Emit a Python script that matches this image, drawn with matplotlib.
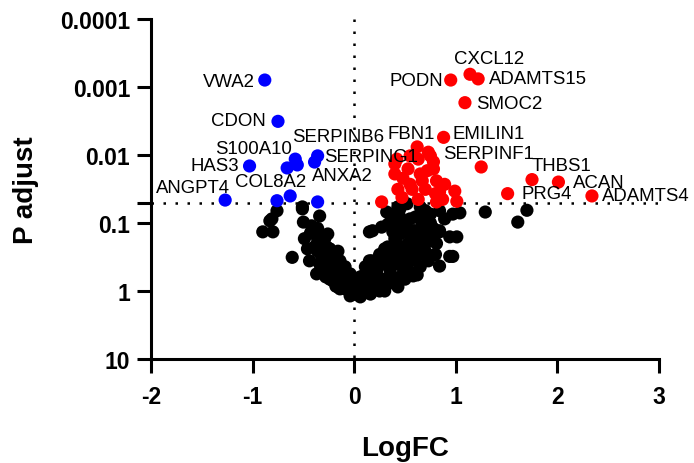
import matplotlib
matplotlib.use("Agg")
import matplotlib.pyplot as plt
import matplotlib.ticker as mticker

plt.rcParams['font.family'] = ['Liberation Sans', 'DejaVu Sans']

# ---- data ----
# labelled genes
gene_names = ["VWA2", "CDON", "S100A10", "HAS3", "SERPINB6", "SERPING1", "ANXA2",
              "COL8A2", "ANGPT4",
              "CXCL12", "PODN", "ADAMTS15", "SMOC2", "EMILIN1", "FBN1", "SERPINF1",
              "THBS1", "ACAN", "PRG4", "ADAMTS4"]
gene_fc = [-0.88, -0.75, -0.58, -1.03, -0.36, -0.39, -0.36,
           -0.76, -1.27,
           1.14, 0.95, 1.22, 1.09, 0.88, 0.62, 1.25,
           1.75, 2.01, 1.51, 2.34]
gene_p = [0.00079, 0.0032, 0.0115, 0.0145, 0.0103, 0.0127, 0.049,
          0.047, 0.046,
          0.00065, 0.00079, 0.00076, 0.0017, 0.0055, 0.0076, 0.015,
          0.023, 0.025, 0.037, 0.040]

# other significant genes
sig_fc = [-0.56, -0.66, -0.63,
          0.73, 0.63, 0.78, 0.53, 0.72, 0.48, 0.67, 0.81, 0.57, 0.70, 0.84, 0.99,
          1.01, 0.87, 0.47, 0.63, 0.40, 0.65, 0.89, 0.80, 0.55, 0.43, 0.27,
          0.40, 0.42, 0.55, 0.75, 0.78, 0.81]
sig_p = [0.014, 0.0155, 0.040,
         0.0091, 0.0115, 0.0126, 0.016, 0.017, 0.022, 0.024, 0.024, 0.032, 0.032, 0.035, 0.034,
         0.048, 0.045, 0.042, 0.045, 0.0135, 0.019, 0.027, 0.037, 0.027, 0.032, 0.049,
         0.019, 0.0115, 0.0103, 0.0103, 0.016, 0.049]

# non-significant genes
ns_fc = [-0.76, -0.81, -0.90, -0.80, -0.51, -0.50, -0.34, -0.42, -0.61, -0.32,
         -0.39, -0.27, -0.16, -0.44, -0.34, -0.27, -0.37, -0.14, -0.04, -0.14,
         -0.21, -0.04, -0.29, -0.24, -0.19, -0.09, 0.01, -0.09, -0.24, -0.32, -0.36,
         0.52, 0.65, 0.35, 0.45, 0.97, 0.18, 0.27, 0.45, 0.58, 0.75,
         0.84, 0.94, 0.75, 0.52, 0.65, 0.72, 0.94, 0.84, 0.38, 0.32,
         0.22, 0.13, 0.58, 0.06, 0.03, 0.19, 0.35, 0.48, 0.22, 0.01,
         0.09, 1.04, 1.29, 1.70, 1.61, 1.01, 0.97, 0.62, 0.40, 0.50,
         0.60, 0.70, 0.30, 0.25, 0.15, 0.40, 0.55, 0.11, 0.28, 0.81, 0.63, 0.43,
         # left arm, dense part
         -0.39, -0.32, -0.24, -0.19, -0.14, -0.09, -0.32, -0.26, -0.19, -0.14,
         -0.06, -0.29, -0.36, -0.49, -0.46, -0.02, -0.16, -0.14, -0.04, 0.06,
         0.16, 0.25, 0.33, 0.40, -0.51, -0.83, -0.26, -0.21, -0.24, -0.11,
         -0.07, 0.01, 0.13, 0.22, 0.09, 0.22, 0.32, 0.38, 0.45, 0.58,
         0.32, 0.45, 0.84, 0.70, 0.52, 0.38, 0.15,
         -0.30, -0.22, -0.12, -0.28, -0.18, -0.43, -0.36,
         # right arm, dense part
         0.06, 0.14, 0.20, 0.28, 0.35, 0.43, 0.50, 0.57, 0.63, 0.70,
         0.76, 0.45, 0.53, 0.60, 0.67, 0.75, 0.84, 0.89, 0.40, 0.33,
         0.25, 0.17, 0.11, 0.40, 0.55, 0.65, 0.80, 0.73, 0.65, 0.50,
         0.43, 0.30, 0.08,
         0.18, 0.26, 0.36, 0.48, 0.60, 0.70, 0.55, 0.68, 0.78, 0.47, 0.33]
ns_p = [0.066, 0.087, 0.135, 0.135, 0.058, 0.097, 0.079, 0.11, 0.32, 0.155,
        0.225, 0.225, 0.26, 0.36, 0.40, 0.56, 0.56, 0.44, 0.56, 0.79,
        0.71, 1.0, 0.17, 0.32, 0.40, 0.67, 1.10, 0.93, 0.47, 0.32, 0.12,
        0.052, 0.058, 0.074, 0.082, 0.074, 0.13, 0.115, 0.145, 0.13, 0.10,
        0.13, 0.16, 0.18, 0.225, 0.29, 0.29, 0.31, 0.43, 0.29, 0.36,
        0.44, 0.51, 0.60, 0.62, 0.79, 0.79, 0.62, 0.56, 0.56, 1.0,
        1.0, 0.071, 0.069, 0.065, 0.097, 0.16, 0.31, 0.58, 0.20, 0.10,
        0.082, 0.066, 0.24, 0.32, 0.36, 0.40, 0.36, 0.71, 0.67, 0.20, 0.17, 0.058,
        0.145, 0.20, 0.24, 0.29, 0.36, 0.44, 0.36, 0.44, 0.51, 0.67,
        0.74, 0.29, 0.26, 0.17, 0.24, 0.79, 0.87, 0.93, 1.18, 1.22,
        1.11, 1.0, 0.79, 0.67, 0.062, 0.093, 0.145, 0.34, 0.67, 0.60,
        0.93, 1.11, 0.93, 0.85, 0.60, 0.52, 0.37, 0.31, 0.22, 0.17,
        0.069, 0.062, 0.135, 0.135, 0.135, 0.135, 0.135,
        0.30, 0.52, 0.80, 0.62, 0.85, 0.14, 0.19,
        0.79, 0.67, 0.48, 0.40, 0.48, 0.40, 0.34, 0.29, 0.24, 0.20,
        0.17, 0.29, 0.20, 0.13, 0.10, 0.074, 0.066, 0.087, 0.17, 0.225,
        0.29, 0.36, 0.44, 0.10, 0.087, 0.074, 0.29, 0.36, 0.44, 0.67,
        0.87, 1.0, 0.93,
        0.90, 0.78, 0.56, 0.45, 0.33, 0.26, 0.52, 0.16, 0.12, 0.11, 0.105]

p_cut = 0.05
x_ticks = [-2, -1, 0, 1, 2, 3]
y_ticks = [0.0001, 0.001, 0.01, 0.1, 1, 10]
y_ticklabels = ["0.0001", "0.001", "0.01", "0.1", "1", "10"]

# label offsets (points) and alignment
label_style = {
    "VWA2": (-7.2, -0.7, "right"), "CDON": (-8.6, 0.7, "right"),
    "S100A10": (-2.2, 7.9, "right"), "HAS3": (-7.2, 0, "right"),
    "SERPINB6": (-18.7, 13.7, "left"), "SERPING1": (6.5, 4.3, "left"),
    "ANXA2": (-4.3, 18.7, "left"), "COL8A2": (-30.2, 13.7, "left"),
    "ANGPT4": (3.6, 9.4, "right"),
    "CXCL12": (-11.5, 11.5, "left"), "PODN": (-5.8, 0, "right"),
    "ADAMTS15": (7.9, 0, "left"), "SMOC2": (7.9, -0.7, "left"),
    "EMILIN1": (6.5, 2.9, "left"), "FBN1": (-21.6, 9.4, "left"),
    "SERPINF1": (-27.4, 10, "left"), "THBS1": (0, 10, "left"),
    "ACAN": (10.8, 0, "left"), "PRG4": (10, 0, "left"), "ADAMTS4": (7.2, 0, "left"),
}

BLUE = "#0000FF"
RED = "#FF0000"


def colour(fc, p):
    if p < p_cut:
        return BLUE if fc < 0 else RED
    return "black"


fig = plt.figure(figsize=(6.94, 4.64), dpi=100)
ax = fig.add_axes([151 / 694, 1 - 360 / 464, (659 - 151) / 694, (360 - 20) / 464])
ax.set_yscale("log")

all_fc = ns_fc + sig_fc + gene_fc
all_p = ns_p + sig_p + gene_p
cols = [colour(f, p) for f, p in zip(all_fc, all_p)]
ax.scatter(all_fc, all_p, s=90, c=cols, linewidths=0, zorder=3, clip_on=False)

# threshold lines
ax.plot([-2, 3], [p_cut, p_cut], color="black", lw=1.8, linestyle=(0, (1, 3.8)), zorder=2)
ax.plot([0, 0], [0.0001, 10], color="black", lw=1.8, linestyle=(0, (1, 3.8)), zorder=2)

for name, f, p in zip(gene_names, gene_fc, gene_p):
    dx, dy, ha = label_style[name]
    ax.annotate(name, (f, p), xytext=(dx, dy), textcoords="offset points",
                ha=ha, va="center", fontsize=13.4, color="black", zorder=4,
                annotation_clip=False)

ax.set_xlim(-2, 3)
ax.set_ylim(10, 0.0001)
ax.set_xticks(x_ticks)
ax.set_xticklabels([str(t) for t in x_ticks])
ax.set_yticks(y_ticks + [p_cut])
ax.set_yticklabels(y_ticklabels + [""])
ax.yaxis.set_minor_locator(mticker.NullLocator())

for s in ["top", "right"]:
    ax.spines[s].set_visible(False)
for s in ["left", "bottom"]:
    ax.spines[s].set_linewidth(2.2)
ax.tick_params(axis="both", which="major", length=10, width=2.2, direction="out",
               labelsize=16.5)
ax.tick_params(axis="x", pad=9)
ax.tick_params(axis="y", pad=5)
for lab in ax.get_xticklabels() + ax.get_yticklabels():
    lab.set_fontweight("bold")

ax.set_xlabel("LogFC", fontsize=20, fontweight="bold")
ax.set_ylabel("P adjust", fontsize=20, fontweight="bold")
ax.xaxis.set_label_coords(0.5, (360 - 436) / 340)
ax.yaxis.set_label_coords((39 - 151) / 508, 0.5)

fig.savefig("out.png", dpi=100)
